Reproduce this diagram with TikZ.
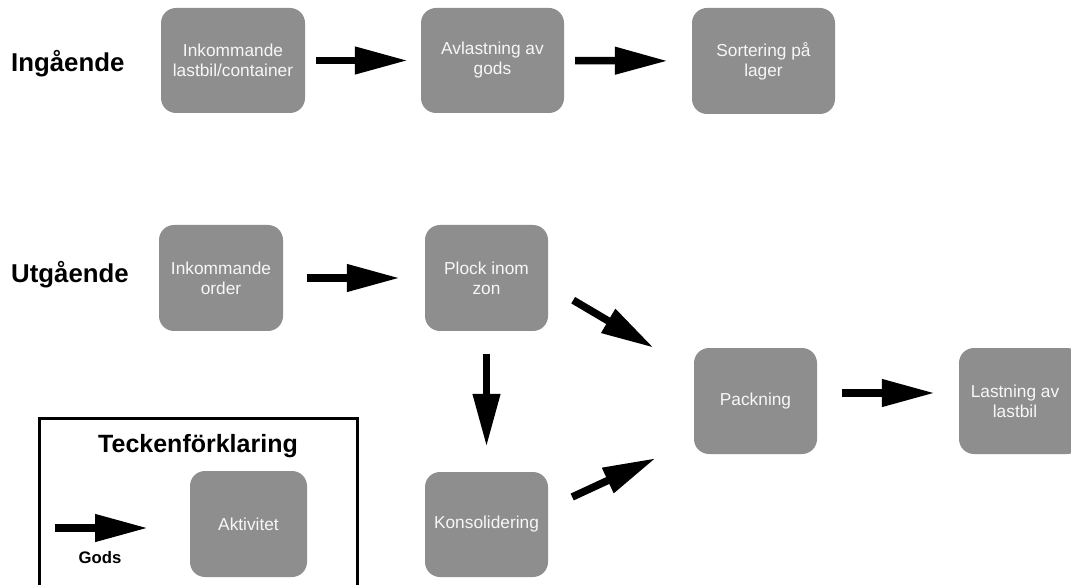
\documentclass[tikz,border=0pt]{standalone}
\usepackage{fontspec}
\setmainfont{Liberation Sans}
\usetikzlibrary{arrows.meta,calc}
\definecolor{boxgray}{HTML}{8E8E8E}
\definecolor{boxtext}{HTML}{F7F7F7}
\tikzset{
  act/.style={fill=boxgray, draw=none, rounded corners=15pt, inner sep=0pt,
    text=boxtext, align=center,
    font=\fontsize{17.3pt}{20pt}\selectfont},
  flow/.style={line width=7.5pt, draw=black,
    -{Triangle[length=53pt,width=26pt]}},
  heading/.style={anchor=base west, inner sep=0pt, font=\fontsize{25.8pt}{28pt}\selectfont\bfseries},
}
\begin{document}
\begin{tikzpicture}[x=1pt,y=-1pt]
\clip (0,0) rectangle (1071,585);
\fill[white] (0,0) rectangle (1071,585);

% headings
\node[heading] (ing) at (11,72) {Ingående};
\node[heading] (utg) at (11,283) {Utgående};

% activities
\node[act, minimum width=144pt, minimum height=105pt] (b1) at (233,60.5) {Inkommande\\lastbil/container};
\node[act, minimum width=143pt, minimum height=105pt] (b2) at (492.5,60.5) {Avlastning av\\gods};
\node[act, minimum width=143pt, minimum height=106pt] (b3) at (763.5,61) {Sortering på\\lager};
\node[act, minimum width=124pt, minimum height=106pt] (b4) at (221,278) {Inkommande\\order};
\node[act, minimum width=123pt, minimum height=106pt] (b5) at (486.5,278) {Plock inom\\zon};
\node[act, minimum width=123pt, minimum height=106pt] (b6) at (755.5,401) {Packning};
\node[act, minimum width=123pt, minimum height=106pt] (b7) at (1020.5,401) {};
\node[act, fill=none] (b7t) at ([xshift=-5.5pt]b7.center) {Lastning av\\lastbil};
\node[act, minimum width=123pt, minimum height=105pt] (b8) at (486.5,524.5) {Konsolidering};

% flows
\draw[flow, shorten <=11pt, shorten >=13pt] (b1.east) -- (b2.west);
\draw[flow, shorten <=11pt, shorten >=24pt] (b2.east) -- (b3.west);
\draw[flow, shorten <=24pt, shorten >=25pt] (b4.east) -- (b5.west);
\draw[flow, shorten <=23pt, shorten >=25pt] (b5.south) -- (b8.north);
\draw[flow] ($(b5.south east)+(25,-31)$) -- ($(b6.north west)+(-40,0)$);
\draw[flow] ($(b8.east)+(24,-27.5)$) -- ($(b6.south west)+(-38,4)$);
\draw[flow, shorten <=25pt, shorten >=24pt] ([yshift=8pt]b6.east) -- ([yshift=8pt]b7.west);

% legend
\draw[line width=3pt] (39,418) coordinate (lgtl) rectangle (357,600) coordinate (lgbr);
\node[anchor=base, inner sep=0pt, font=\fontsize{25pt}{28pt}\selectfont\bfseries] (lgtitle) at (198,452) {Teckenförklaring};
\node[act, minimum width=117pt, minimum height=106pt] (b9) at (248.5,524) {Aktivitet};
\coordinate (lgA) at (55,528);
\coordinate (lgB) at (148,528);
\draw[flow] (lgA) -- (lgB);
\node[anchor=base, inner sep=0pt, font=\fontsize{16.7pt}{20pt}\selectfont\bfseries] (gods) at (100,563) {Gods};
\end{tikzpicture}
\end{document}
